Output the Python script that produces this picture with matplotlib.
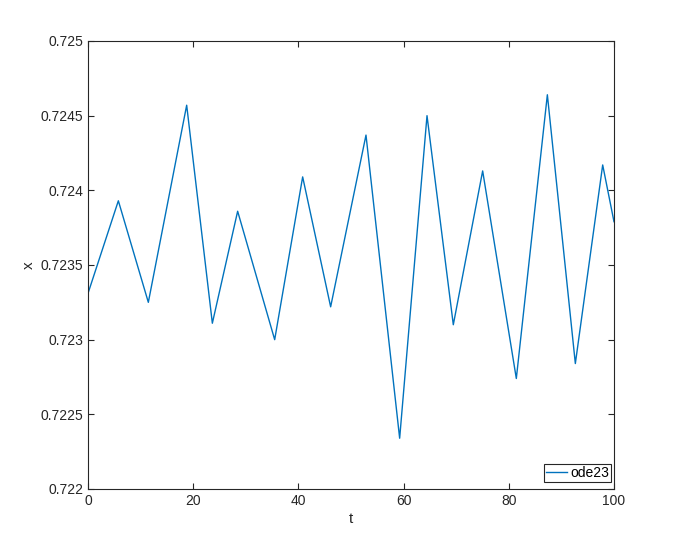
import matplotlib.pyplot as plt
import numpy as np

# vertices of the ode23 solution
t = [0, 5.77, 11.47, 18.76, 23.64, 28.45, 35.49, 40.81, 46.13, 52.85,
     59.25, 64.45, 69.45, 75.03, 81.43, 87.33, 92.65, 97.85, 100]
x = [0.72331, 0.72393, 0.72325, 0.72457, 0.72311, 0.72386, 0.72300,
     0.72409, 0.72322, 0.72437, 0.72234, 0.72450, 0.72310, 0.72413,
     0.72274, 0.72464, 0.72284, 0.72417, 0.72379]

xticks = [0, 20, 40, 60, 80, 100]
yticks = [0.722, 0.7225, 0.723, 0.7235, 0.724, 0.7245, 0.725]

plt.rcParams["font.family"] = ["Liberation Sans", "DejaVu Sans"]

fig = plt.figure(figsize=(6.8, 5.51), dpi=100)
ax = fig.add_axes([88 / 680, 62 / 551, 526 / 680, 448 / 551])

ax.plot(t, x, color="#0072BD", linewidth=1.0, label="ode23")

ax.set_xlim(0, 100)
ax.set_ylim(0.722, 0.725)
ax.set_xticks(xticks)
ax.set_xticklabels([f"{v:g}" for v in xticks])
ax.set_yticks(yticks)
ax.set_yticklabels([f"{v:g}" for v in yticks])

ax.tick_params(direction="in", top=True, right=True, length=4, width=0.8,
               labelsize=10, colors="#262626")
for s in ax.spines.values():
    s.set_color("#262626")
    s.set_linewidth(0.8)

ax.set_xlabel("t", fontsize=11, color="#262626", labelpad=3)
ax.set_ylabel("x", fontsize=11, color="#262626", labelpad=3)

leg = ax.legend(loc="lower right", bbox_to_anchor=(0.9943, 0.0156),
                fancybox=False, framealpha=1, edgecolor="#262626",
                fontsize=10, handlelength=1.45, borderpad=0.15,
                handletextpad=0.25, borderaxespad=0)
leg.get_frame().set_linewidth(0.8)

fig.savefig("out.png", dpi=100)
